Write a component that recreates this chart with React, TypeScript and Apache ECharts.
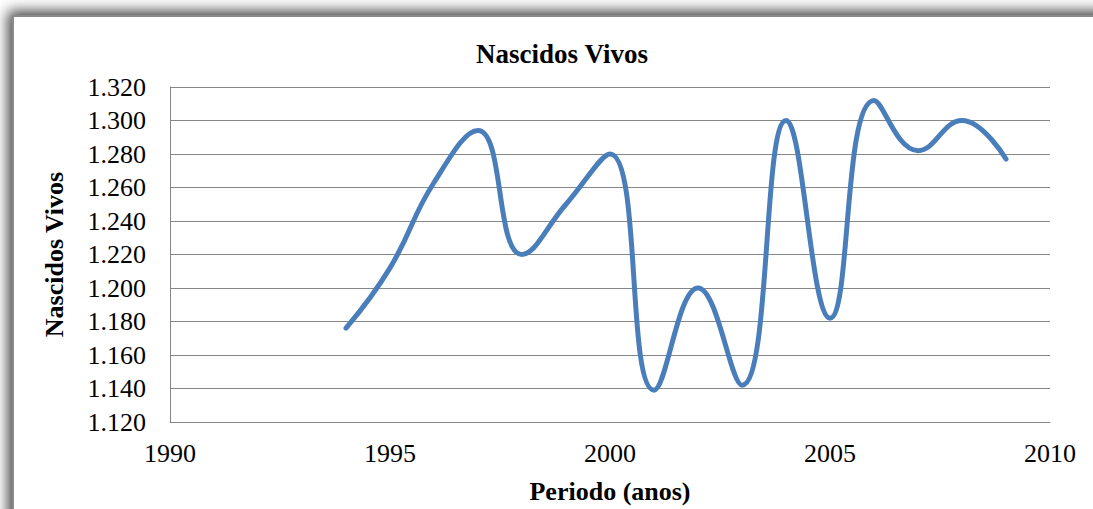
import React, { useEffect, useRef } from "react";
import * as echarts from "echarts";

const years = [1994, 1995, 1996, 1997, 1998, 1999, 2000, 2001, 2002, 2003, 2004, 2005, 2006, 2007, 2008, 2009];
const nascidos = [1176, 1212, 1263, 1294, 1220, 1250, 1280, 1139, 1200, 1142, 1300, 1182, 1312, 1282, 1300, 1277];
const chartTitle = "Nascidos Vivos";
const yAxisName = "Nascidos Vivos";
const xAxisName = "Periodo (anos)";

const SERIF = "'Liberation Serif', 'Times New Roman', serif";

export default function App() {
  const ref = useRef<HTMLDivElement>(null);
  useEffect(() => {
    if (!ref.current) return;
    const chart = echarts.init(ref.current, undefined, { renderer: "svg" });
    chart.setOption({
      animation: false,
      backgroundColor: "#ffffff",
      graphic: [
        {
          type: "rect",
          z: -10,
          silent: true,
          shape: { x: 13, y: 16, width: 1100, height: 520 },
          style: {
            fill: "#ffffff",
            stroke: "#8a8a8a",
            lineWidth: 2,
            shadowBlur: 14,
            shadowColor: "rgba(0,0,0,0.75)",
            shadowOffsetX: -4,
            shadowOffsetY: -4,
          },
        },
      ],
      title: {
        text: chartTitle,
        left: 557,
        textAlign: "center",
        top: 35,
        textStyle: { fontFamily: SERIF, fontWeight: "bold", fontSize: 27, color: "#000" },
      },
      grid: { left: 170, right: 43, top: 87, bottom: 85, containLabel: false },
      xAxis: {
        type: "value",
        min: 1990,
        max: 2010,
        interval: 5,
        name: xAxisName,
        nameLocation: "middle",
        nameGap: 56,
        nameTextStyle: { fontFamily: SERIF, fontWeight: "bold", fontSize: 26, color: "#000" },
        axisLine: { show: true, lineStyle: { color: "#868686", width: 1 } },
        axisTick: { show: false },
        splitLine: { show: false },
        axisLabel: {
          fontFamily: SERIF,
          fontSize: 26,
          color: "#000",
          margin: 18,
          formatter: (v: number) => String(v),
        },
      },
      yAxis: {
        type: "value",
        min: 1120,
        max: 1320,
        interval: 20,
        name: yAxisName,
        nameLocation: "middle",
        nameRotate: 90,
        nameGap: 103,
        nameTextStyle: { fontFamily: SERIF, fontWeight: "bold", fontSize: 26, color: "#000" },
        axisLine: { show: true, lineStyle: { color: "#868686", width: 1 } },
        axisTick: { show: false },
        splitLine: { show: true, lineStyle: { color: "#868686", width: 1 } },
        axisLabel: {
          fontFamily: SERIF,
          fontSize: 26,
          color: "#000",
          margin: 24,
          formatter: (v: number) => (v / 1000).toFixed(3),
        },
      },
      series: [
        {
          type: "line",
          data: years.map((y, i) => [y, nascidos[i]]),
          smooth: 0.45,
          showSymbol: false,
          lineStyle: { color: "#4A7EBB", width: 5, cap: "round" },
          itemStyle: { color: "#4A7EBB" },
        },
      ],
    });
    return () => chart.dispose();
  }, []);
  return (
    <div
      ref={ref}
      style={{ position: "fixed", left: 0, top: 0, width: 1093, height: 509 }}
    />
  );
}
